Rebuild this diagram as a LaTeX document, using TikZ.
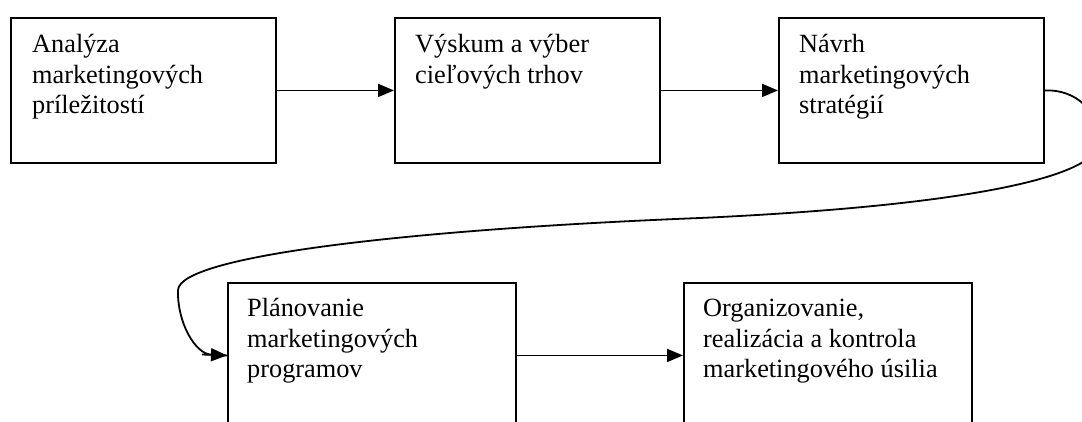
\documentclass[tikz,border=0pt]{standalone}
\usepackage{fontspec}
\setmainfont{Liberation Serif}
\usetikzlibrary{arrows.meta}
\begin{document}
\begin{tikzpicture}[x=1pt,y=-1pt,
  stagebox/.style={draw, line width=1.9pt, minimum width=265pt, minimum height=145pt, inner sep=0pt, anchor=north west},
  widebox/.style={stagebox, minimum width=288pt},
  boxtext/.style={anchor=north west, inner sep=0pt, align=left, font=\fontsize{26.3}{30.8}\selectfont},
  conn/.style={line width=1.8pt, -{Triangle[length=16pt,width=13pt]}},
  plainline/.style={line width=1.8pt}]
\useasboundingbox (0,0) rectangle (1082,422);
\clip (0,0) rectangle (1082,422);
\node[stagebox] (b1) at (10,17) {};
\node[stagebox] (b2) at (394,17) {};
\node[stagebox] (b3) at (778,17) {};
\node[widebox] (b4) at (227,282) {};
\node[widebox] (b5) at (683,282) {};
\node[boxtext] (t1) at ([shift={(22,13.6)}]b1.north west) {\strut Analýza\\marketingových\\príležitostí};
\node[boxtext] (t2) at ([shift={(21,13.6)}]b2.north west) {\strut Výskum a výber\\cieľových trhov};
\node[boxtext] (t3) at ([shift={(21,13.6)}]b3.north west) {\strut Návrh\\marketingových\\stratégií};
\node[boxtext] (t4) at ([shift={(20,12.6)}]b4.north west) {\strut Plánovanie\\marketingových\\programov};
\node[boxtext] (t5) at ([shift={(20,12.6)}]b5.north west) {\strut Organizovanie,\\realizácia a kontrola\\marketingového úsilia};
\draw[conn] (b1.east) -- (b2.west);
\draw[conn] (b2.east) -- (b3.west);
\draw[conn] (b4.west -| b4.east) -- (b5.west);
\draw[conn] (b3.east) .. controls (1076,89) and (1100,112) .. (1099,142)
  .. controls (1098,178) and (960,206) .. (700,218)
  .. controls (420,229) and (180,255) .. (178,290)
  .. controls (177,322) and (195,354) .. (b4.west);
\coordinate (stub) at (202,354.5);
\draw[plainline] (stub) -- (b4.west);
\end{tikzpicture}
\end{document}
